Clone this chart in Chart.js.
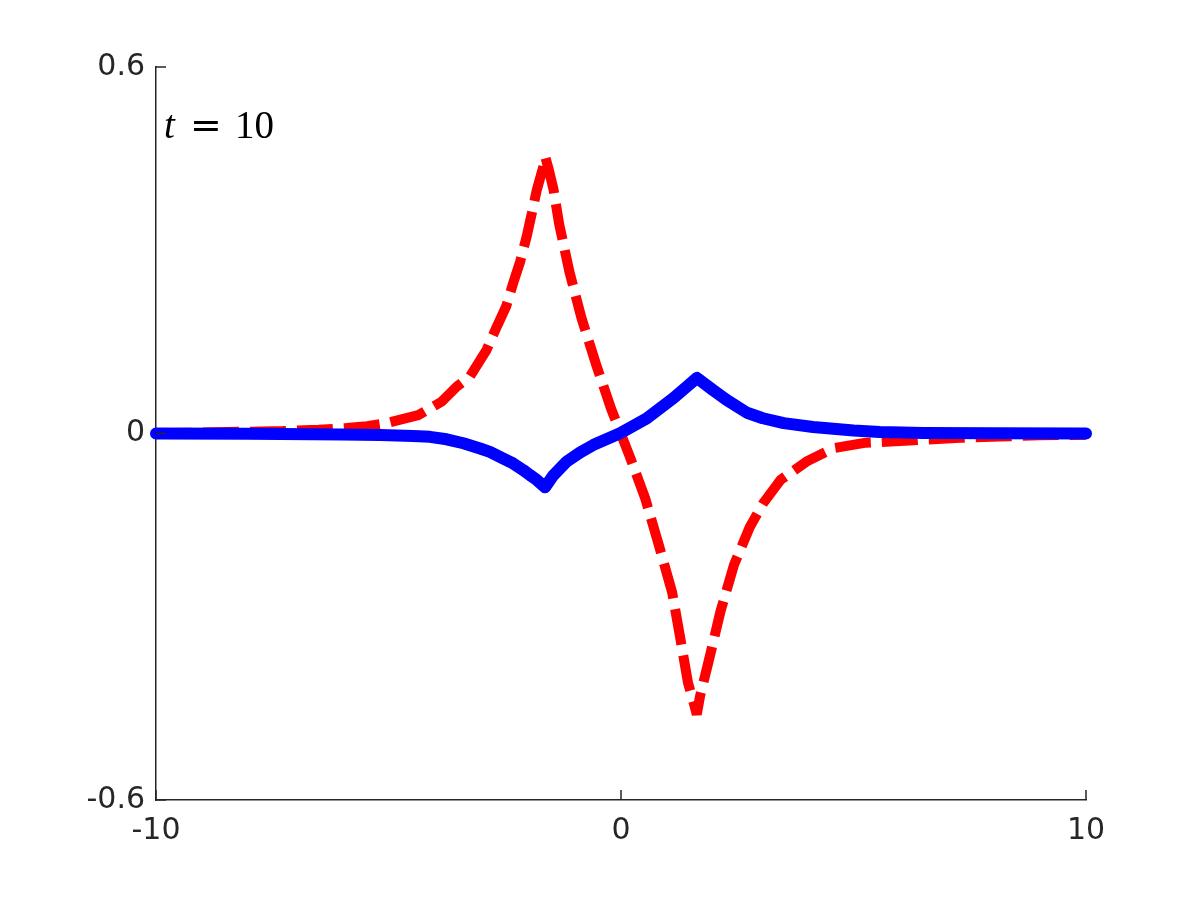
<!DOCTYPE html>
<html>
<head>
<meta charset="utf-8">
<script src="https://cdn.jsdelivr.net/npm/chart.js@4.4.0/dist/chart.umd.min.js"></script>
<style>
    html, body { margin: 0; padding: 0; background: #ffffff; }
    #wrap { width: 1200px; height: 900px; }
</style>
</head>
<body>
<div id="wrap"><canvas id="waveChart" width="1200" height="900"></canvas></div>
<script>
// Curva vermelha (tracejada)
const redX = [-10, -9, -8, -7.27, -6.5, -5.9, -5.46, -5.04, -4.36, -3.86, -3.53, -3.25, -2.89, -2.67, -2.47, -2.32, -2.17, -2.03, -1.92, -1.81, -1.67, -1.63,
    -1.56, -1.45, -1.33, -1.11, -0.85, -0.54, -0.21, 0.19, 0.52, 0.8, 1.1, 1.27, 1.44, 1.56, 1.63,
    1.7, 1.9, 2.14, 2.43, 2.77, 3.06, 3.43, 3.99, 4.57, 5.27, 6.1, 7.29, 8.15, 9, 10];
const redY = [0.0005, 0.0015, 0.003, 0.004, 0.006, 0.009, 0.012, 0.017, 0.030, 0.052, 0.077, 0.093, 0.137, 0.175, 0.208, 0.246, 0.281, 0.322, 0.36, 0.399, 0.437, 0.453,
    0.434, 0.399, 0.343, 0.265, 0.189, 0.114, 0.04, -0.038, -0.106, -0.179, -0.26, -0.333, -0.408, -0.44, -0.46,
    -0.43, -0.368, -0.291, -0.215, -0.153, -0.114, -0.076, -0.046, -0.024, -0.015, -0.012, -0.007, -0.005, -0.003, -0.002];

// Curva azul (contínua)
const blueX = [-10, -8, -6, -5.18, -4.47, -4.11, -3.75, -3.39, -3.03, -2.82, -2.53, -2.32, -2.1, -1.96, -1.81, -1.634,
    -1.46, -1.17, -0.88, -0.6, -0.02, 0.55, 1.13, 1.45, 1.634,
    1.98, 2.27, 2.71, 3.05, 3.5, 4.13, 5, 5.57, 6.5, 8, 10];
const blueY = [0, -0.0005, -0.0015, -0.0025, -0.004, -0.0055, -0.0095, -0.016, -0.0245, -0.03, -0.041, -0.049, -0.06, -0.068, -0.076, -0.088,
    -0.069, -0.046, -0.031, -0.019, 0.0003, 0.0245, 0.058, 0.079, 0.091,
    0.071, 0.055, 0.034, 0.025, 0.017, 0.0107, 0.005, 0.0025, 0.001, 0.0003, 0];

// Eixos
const xTicks = [-10, 0, 10];
const yTicks = [-0.6, 0, 0.6];
const annotation = ['t', '=', '10'];

const axisColor = '#262626';

document.addEventListener('DOMContentLoaded', function() {
    const ctx = document.getElementById('waveChart').getContext('2d');

    const toPoints = (xs, ys) => xs.map((x, i) => ({ x: x, y: ys[i] }));

    // Marcas dos eixos para dentro + texto t = 10
    const extrasPlugin = {
        id: 'extras',
        afterDraw(chart) {
            const c = chart.ctx;
            const xs = chart.scales.x;
            const ys = chart.scales.y;
            const area = chart.chartArea;
            c.save();
            c.strokeStyle = axisColor;
            c.lineWidth = 1.5;
            c.beginPath();
            xTicks.forEach(v => {
                const px = xs.getPixelForValue(v);
                c.moveTo(px, area.bottom);
                c.lineTo(px, area.bottom - 10);
            });
            yTicks.forEach(v => {
                const py = ys.getPixelForValue(v);
                c.moveTo(area.left, py);
                c.lineTo(area.left + 10, py);
            });
            c.stroke();

            c.fillStyle = '#000000';
            c.textBaseline = 'alphabetic';
            c.textAlign = 'left';
            c.font = 'italic 39px "Liberation Serif"';
            c.fillText(annotation[0], 164, 138);
            c.font = '38px "DejaVu Serif"';
            c.fillText(annotation[1], 190, 138);
            c.font = '39px "Liberation Serif"';
            c.fillText(annotation[2], 235, 138);
            c.restore();
        }
    };

    new Chart(ctx, {
        type: 'scatter',
        data: {
            datasets: [{
                label: 'azul',
                data: toPoints(blueX, blueY),
                showLine: true,
                borderColor: '#0000ff',
                backgroundColor: '#0000ff',
                borderWidth: 12,
                borderJoinStyle: 'round',
                borderCapStyle: 'round',
                tension: 0,
                pointRadius: 0,
                clip: false,
                order: 0
            }, {
                label: 'vermelha',
                data: toPoints(redX, redY),
                showLine: true,
                borderColor: '#ff0000',
                backgroundColor: '#ff0000',
                borderWidth: 10,
                borderDash: [36, 11],
                borderCapStyle: 'butt',
                borderJoinStyle: 'bevel',
                tension: 0,
                pointRadius: 0,
                clip: false,
                order: 1
            }]
        },
        options: {
            responsive: false,
            animation: false,
            layout: { padding: { left: 0, right: 114, top: 67, bottom: 0 } },
            plugins: {
                legend: { display: false },
                tooltip: { enabled: false }
            },
            scales: {
                x: {
                    type: 'linear',
                    min: -10,
                    max: 10,
                    afterBuildTicks: scale => { scale.ticks = xTicks.map(v => ({ value: v })); },
                    afterFit: scale => { scale.height = 100; },
                    grid: { display: false, drawTicks: false },
                    border: { display: true, color: axisColor, width: 1.5 },
                    ticks: {
                        padding: 13,
                        color: axisColor,
                        font: { family: 'DejaVu Sans', size: 30 },
                        maxRotation: 0,
                        callback: v => String(v)
                    }
                },
                y: {
                    type: 'linear',
                    min: -0.6,
                    max: 0.6,
                    afterBuildTicks: scale => { scale.ticks = yTicks.map(v => ({ value: v })); },
                    afterFit: scale => { scale.width = 156; },
                    grid: { display: false, drawTicks: false },
                    border: { display: true, color: axisColor, width: 1.5 },
                    ticks: {
                        padding: 11,
                        color: axisColor,
                        font: { family: 'DejaVu Sans', size: 30 },
                        callback: v => String(v)
                    }
                }
            }
        },
        plugins: [extrasPlugin]
    });
});
</script>
</body>
</html>
